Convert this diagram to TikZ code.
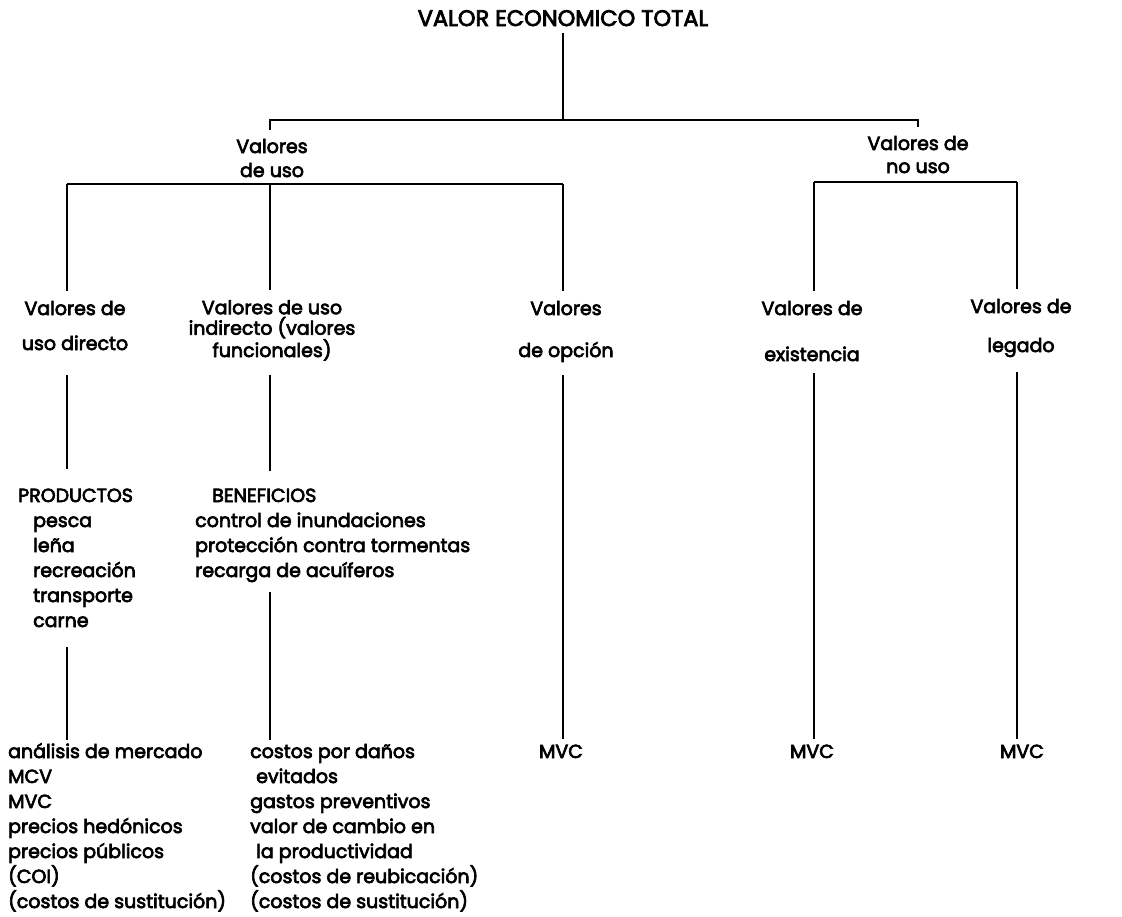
\documentclass[tikz,border=0pt]{standalone}
\usepackage{fontspec}
\setmainfont{Poppins}[FakeBold=3.5]
\usetikzlibrary{positioning}

\begin{document}
\begin{tikzpicture}[x=1pt, y=-1pt,
  font=\fontsize{19}{25}\selectfont,
  head/.style={align=center, inner sep=0pt, anchor=base},
  plain/.style={align=left, inner sep=0pt, anchor=base west},
  edge/.style={line width=1.5pt}]
  \useasboundingbox (0,0) rectangle (1122,916);
  % root and first split (nodes sit on the baseline of their last line)
  \node[head, font=\fontsize{22.5}{25}\selectfont] (vet) at (563,26) {VALOR ECONOMICO TOTAL};
  \node[head, font=\fontsize{19}{24}\selectfont] (vu) at (272,177) {Valores\\de uso};
  \node[head, font=\fontsize{19}{23}\selectfont] (vnu) at (918,173) {Valores de\\no uso};
  % kinds of value
  \node[head, font=\fontsize{19}{35}\selectfont] (vud) at (75,350) {Valores de\\uso directo};
  \node[head, font=\fontsize{19}{20.5}\selectfont] (vui) at (272,357) {Valores de uso\\indirecto (valores\\funcionales)};
  \node[head, font=\fontsize{19}{42}\selectfont] (vop) at (566,357) {Valores\\de opción};
  \node[head, font=\fontsize{19}{46}\selectfont] (vex) at (812,361) {Valores de\\existencia};
  \node[head, font=\fontsize{19}{39}\selectfont] (vle) at (1021,352) {Valores de\\legado};
  % goods and services
  \node[plain] (prod) at (18,627) {PRODUCTOS\\\hspace*{15pt}pesca\\\hspace*{15pt}leña\\\hspace*{15pt}recreación\\\hspace*{15pt}transporte\\\hspace*{15pt}carne};
  \node[plain] (ben) at (195,577) {\hspace*{17pt}BENEFICIOS\\control de inundaciones\\protección contra tormentas\\recarga de acuíferos};
  % valuation methods
  \node[plain] (mtdA) at (8,908) {análisis de mercado\\MCV\\MVC\\precios hedónicos\\precios públicos\\(COI)\\(costos de sustitución)};
  \node[plain] (mtdB) at (250,908) {costos por daños\\\hspace*{6pt}evitados\\gastos preventivos\\valor de cambio en\\\hspace*{6pt}la productividad\\(costos de reubicación)\\(costos de sustitución)};
  \node[head] (mvcA) at (561,758) {MVC};
  \node[head] (mvcB) at (812,758) {MVC};
  \node[head] (mvcC) at (1022,758) {MVC};
  % bars
  \coordinate (t1) at (563,120);
  \coordinate (u1) at (67,184); \coordinate (u2) at (270,184); \coordinate (u3) at (563,184);
  \coordinate (n1) at (814,182); \coordinate (n2) at (1017,182);
  \draw[edge] ([yshift=-7pt]vet.south) -- (vet.south |- t1);
  \draw[edge] ([yshift=9pt]vu.north -| u2) -- (u2 |- t1) -- (vnu.north |- t1) -- ([yshift=9pt]vnu.north);
  \draw[edge] (u1) -- (u3); \draw[edge] (n1) -- (n2);
  \draw[edge] (u1) -- ([yshift=10pt]u1 |- vud.north);
  \draw[edge] (u2) -- ([yshift=10pt]u2 |- vui.north);
  \draw[edge] (u3) -- ([yshift=10pt]u3 |- vop.north);
  \draw[edge] (n1) -- ([yshift=10pt]n1 |- vex.north);
  \draw[edge] (n2) -- ([yshift=10pt]n2 |- vle.north);
  % down to products, benefits and methods
  \draw[edge] ([yshift=-25pt]u1 |- vud.south) -- ([yshift=19pt]u1 |- prod.north);
  \draw[edge] ([yshift=-14pt]u2 |- vui.south) -- ([yshift=17pt]u2 |- ben.north);
  \draw[edge] ([yshift=-20pt]u1 |- prod.south) -- ([yshift=3pt]u1 |- mtdA.north);
  \draw[edge] ([yshift=-10pt]u2 |- ben.south) -- ([yshift=4pt]u2 |- mtdB.north);
  \draw[edge] ([yshift=-13pt]u3 |- vop.south) -- ([yshift=5pt]u3 |- mvcA.north);
  \draw[edge] ([yshift=-12pt]n1 |- vex.south) -- ([yshift=5pt]n1 |- mvcB.north);
  \draw[edge] ([yshift=-15pt]n2 |- vle.south) -- ([yshift=5pt]n2 |- mvcC.north);
\end{tikzpicture}
\end{document}
